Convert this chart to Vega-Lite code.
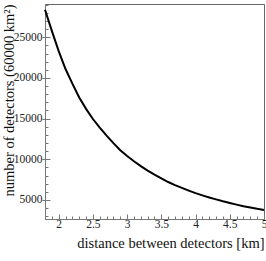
{
  "$schema": "https://vega.github.io/schema/vega-lite/v6.json",
  "autosize": "none",
  "width": 219,
  "height": 215,
  "padding": {"left": 45, "top": 4, "right": 2, "bottom": 42},
  "background": "white",
  "config": {
    "view": {"stroke": "#666", "strokeWidth": 1},
    "axis": {"grid": false, "labelFont": "Liberation Serif", "titleFont": "Liberation Serif", "labelFontSize": 11.5, "titleFontSize": 14.5, "titleFontWeight": "normal", "labelColor": "#222", "titleColor": "#111", "domainColor": "#777", "tickColor": "#777"}
  },
  "data": {"values": [
    {"d": 1.8, "n": 28400}, {"d": 1.9, "n": 25800}, {"d": 2.0, "n": 23300}, {"d": 2.1, "n": 21100},
    {"d": 2.2, "n": 19300}, {"d": 2.3, "n": 17600}, {"d": 2.4, "n": 16200}, {"d": 2.5, "n": 14950},
    {"d": 2.6, "n": 13900}, {"d": 2.7, "n": 12900}, {"d": 2.8, "n": 11980}, {"d": 2.9, "n": 11120},
    {"d": 3.0, "n": 10400}, {"d": 3.1, "n": 9750}, {"d": 3.2, "n": 9150}, {"d": 3.3, "n": 8600},
    {"d": 3.4, "n": 8100}, {"d": 3.5, "n": 7650}, {"d": 3.6, "n": 7200}, {"d": 3.7, "n": 6820},
    {"d": 3.8, "n": 6470}, {"d": 3.9, "n": 6140}, {"d": 4.0, "n": 5830}, {"d": 4.1, "n": 5560},
    {"d": 4.2, "n": 5300}, {"d": 4.3, "n": 5060}, {"d": 4.4, "n": 4830}, {"d": 4.5, "n": 4620},
    {"d": 4.6, "n": 4420}, {"d": 4.7, "n": 4230}, {"d": 4.8, "n": 4060}, {"d": 4.9, "n": 3900},
    {"d": 5.0, "n": 3770}
  ]},
  "resolve": {"axis": {"x": "independent", "y": "independent"}},
  "layer": [
    {
      "mark": {"type": "line", "strokeWidth": 0, "opacity": 0},
      "encoding": {
        "x": {"field": "d", "type": "quantitative", "scale": {"domain": [1.8, 5], "nice": false, "zero": false},
              "axis": {"orient": "bottom", "values": [1.8,1.9,2.0,2.1,2.2,2.3,2.4,2.5,2.6,2.7,2.8,2.9,3.0,3.1,3.2,3.3,3.4,3.5,3.6,3.7,3.8,3.9,4.0,4.1,4.2,4.3,4.4,4.5,4.6,4.7,4.8,4.9,5.0], "labels": false, "domain": false, "title": null, "tickSize": -3}},
        "y": {"field": "n", "type": "quantitative", "scale": {"domain": [2650, 29100], "nice": false, "zero": false},
              "axis": {"orient": "left", "values": [3000,4000,5000,6000,7000,8000,9000,10000,11000,12000,13000,14000,15000,16000,17000,18000,19000,20000,21000,22000,23000,24000,25000,26000,27000,28000,29000], "labels": false, "domain": false, "title": null, "tickSize": -3}}
      }
    },
    {
      "mark": {"type": "line", "strokeWidth": 0, "opacity": 0},
      "encoding": {
        "x": {"field": "d", "type": "quantitative", "axis": null},
        "y": {"field": "n", "type": "quantitative",
              "axis": {"orient": "left", "values": [5000,10000,15000,20000,25000], "labels": false, "domain": false, "title": null, "tickSize": -5}}
      }
    },
    {
      "mark": {"type": "line", "color": "black", "strokeWidth": 2},
      "encoding": {
        "x": {"field": "d", "type": "quantitative",
              "axis": {"orient": "bottom", "values": [2,2.5,3,3.5,4,4.5,5], "format": "~g", "tickSize": -5, "labelPadding": 4, "labelFlush": false, "title": "distance between detectors [km]", "titleAnchor": "end", "titleBaseline": "alphabetic", "titleY": 28}},
        "y": {"field": "n", "type": "quantitative",
              "axis": {"orient": "left", "values": [5000,10000,15000,20000,25000], "format": "d", "tickSize": 3, "labelPadding": 0, "labelFlush": false, "title": "number of detectors (60000 km²)", "titleAnchor": "end", "titleBaseline": "alphabetic", "titleX": -32}}
      }
    }
  ]
}
